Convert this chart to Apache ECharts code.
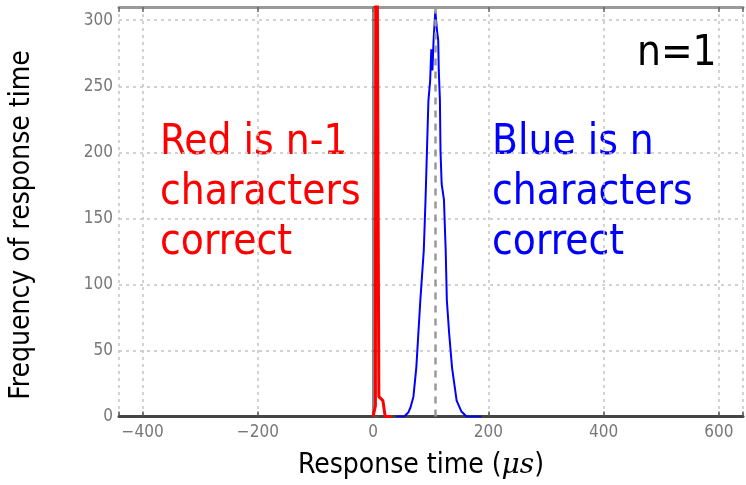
<!DOCTYPE html>
<html>
<head>
<meta charset="utf-8">
<script src="https://cdn.jsdelivr.net/npm/echarts@6/dist/echarts.min.js"></script>
<style>
  html, body { margin: 0; padding: 0; background: #fff; }
  #chart { width: 746px; height: 485px; }
</style>
</head>
<body>
<div id="chart"></div>
<script>
// response-time histograms
const redX = [0, 4, 5, 8, 10, 17, 21, 32];
const redY = [0, 8, 600, 600, 15, 12, 0, 0];

const blueX = [40, 54, 61, 65, 70, 75, 82, 88, 91, 93, 96, 99, 101, 103, 105, 108, 111, 113, 114, 116, 117, 119, 123, 125, 126, 128, 132, 137, 145, 153, 162, 188];
const blueY = [0, 0, 3, 7, 15, 37, 88, 126, 164, 194, 239, 254, 278, 262, 285, 307, 292, 285, 262, 239, 201, 176, 164, 138, 126, 88, 63, 37, 12, 4, 0, 0];

const meanX = 108;
const xTicks = [-400, -200, 0, 200, 400, 600];
const yTicks = [0, 50, 100, 150, 200, 250, 300];

const FONT = '"DejaVu Sans Condensed", "DejaVu Sans", sans-serif';

const chart = echarts.init(document.getElementById('chart'));

const gridLine = { show: true, lineStyle: { color: '#c4c4c4', width: 1.5, type: [3, 4] } };

chart.setOption({
    animation: false,
    grid: { left: 119, top: 7, right: 0, bottom: 68.5 },
    xAxis: [{
        type: 'value',
        min: -441,
        max: 642,
        splitNumber: 5,
        axisLine: { show: true, onZero: false, lineStyle: { color: '#444', width: 3 } },
        axisTick: { show: true, inside: true, length: 5, lineStyle: { color: '#555', width: 1.5 } },
        axisLabel: {
            margin: 8,
            color: '#777',
            fontSize: 17,
            fontFamily: FONT,
            formatter: v => xTicks.includes(v) ? String(v).replace('-', '\u2212') : ''
        },
        splitLine: gridLine
    }, {
        type: 'value',
        position: 'top',
        min: -441,
        max: 642,
        splitNumber: 5,
        axisLine: { show: true, onZero: false, lineStyle: { color: '#999', width: 3 } },
        axisTick: { show: true, inside: true, length: 5, lineStyle: { color: '#666', width: 1.5 } },
        axisLabel: { show: false },
        splitLine: { show: false }
    }],
    yAxis: {
        type: 'value',
        min: 0,
        max: 310,
        interval: 50,
        axisLine: { show: true, lineStyle: { color: '#888', width: 2 } },
        axisTick: { show: true, inside: true, length: 5, lineStyle: { color: '#555', width: 1.5 } },
        axisLabel: {
            margin: 6,
            color: '#777',
            fontSize: 17,
            fontFamily: FONT,
            formatter: v => yTicks.includes(v) ? String(v) : ''
        },
        splitLine: gridLine
    },
    series: [
        {
            type: 'line',
            data: redX.map((x, i) => [x, redY[i]]),
            showSymbol: false,
            clip: true,
            lineStyle: { color: '#ff0000', width: 3 },
            z: 3
        },
        {
            type: 'line',
            data: blueX.map((x, i) => [x, blueY[i]]),
            showSymbol: false,
            clip: true,
            lineStyle: { color: '#0000ff', width: 2 },
            z: 4,
            markLine: {
                silent: true,
                symbol: 'none',
                label: { show: false },
                lineStyle: { color: '#999', width: 2.5, type: [7, 6] },
                data: [{ xAxis: meanX }]
            }
        }
    ],
    graphic: [
        {
            type: 'text', left: 160, top: 118,
            style: {
                text: 'Red is n-1\ncharacters\ncorrect',
                font: '42px ' + FONT,
                fill: '#ff0000',
                lineHeight: 50
            }
        },
        {
            type: 'text', left: 492, top: 118,
            style: {
                text: 'Blue is n\ncharacters\ncorrect',
                font: '42px ' + FONT,
                fill: '#0000ff',
                lineHeight: 50
            }
        },
        {
            type: 'text', left: 637, top: 33,
            style: { text: 'n=1', font: '42px ' + FONT, fill: '#000' }
        },
        {
            type: 'text', x: 22, y: 225, rotation: Math.PI / 2,
            style: {
                text: 'Frequency of response time',
                font: '28px ' + FONT,
                fill: '#000',
                align: 'center',
                verticalAlign: 'middle'
            }
        },
        {
            type: 'text', x: 421, y: 466,
            style: {
                text: 'Response time ({m|\u03bcs})',
                font: '28px ' + FONT,
                fill: '#000',
                align: 'center',
                verticalAlign: 'middle',
                rich: {
                    m: { fontFamily: '"DejaVu Serif", serif', fontStyle: 'italic', fontSize: 28 }
                }
            }
        }
    ]
});
</script>
</body>
</html>
